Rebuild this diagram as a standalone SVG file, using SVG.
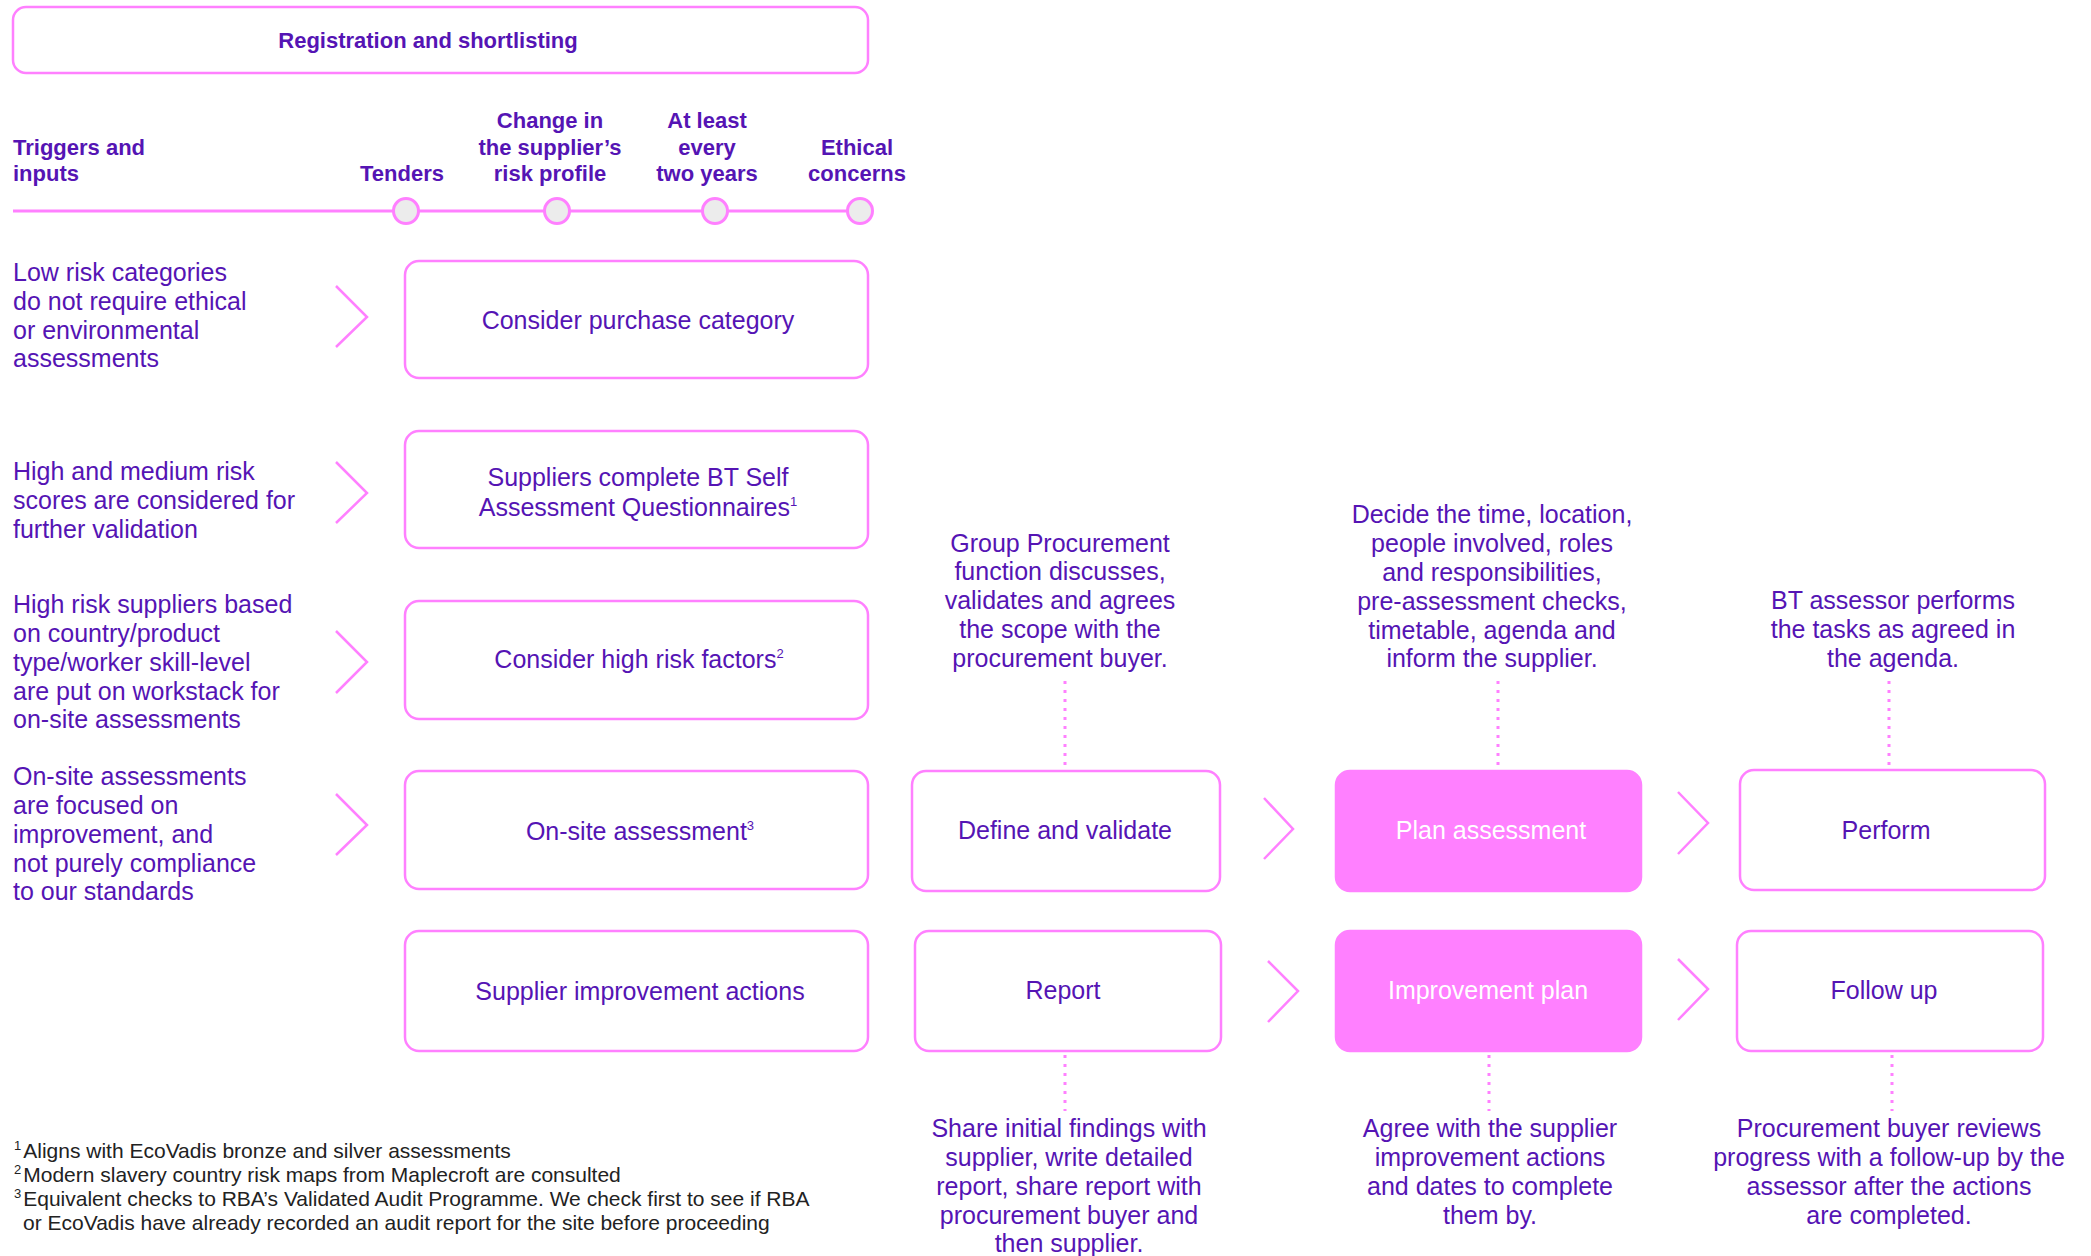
<svg xmlns="http://www.w3.org/2000/svg" width="2091" height="1256" viewBox="0 0 2091 1256">
<style>
.box{fill:#fff;stroke:#ff80ff;stroke-width:2.5}
.fbox{fill:#ff80ff;stroke:#ff80ff;stroke-width:2.5}
text{font-family:"Liberation Sans",Arial,sans-serif;font-size:25px;fill:#5514b4}
.b{font-weight:bold;font-size:22px}
.c{text-anchor:middle}
.w{fill:#fff}
.chev{fill:none;stroke:#ff80ff;stroke-width:2.5}
.dot{fill:none;stroke:#ff80ff;stroke-width:3;stroke-dasharray:3 6}
.fn{font-size:21px;fill:#222}
.sup{font-size:13px}
.tl{stroke:#ff80ff;stroke-width:3}
.circ{fill:#ececec;stroke:#ff80ff;stroke-width:3}
</style>
<rect width="2091" height="1256" fill="#fff"/>

<g id="registration">
<rect class="box" x="13" y="7" width="855" height="66" rx="13"/>
<text class="b c" x="428" y="48">Registration and shortlisting</text>
</g>

<g id="timeline">
<line class="tl" x1="13" y1="211" x2="860" y2="211"/>
<text class="b" x="13" y="155">Triggers and</text>
<text class="b" x="13" y="181">inputs</text>
<g id="t-tenders"><circle class="circ" cx="406" cy="211" r="12.5"/><text class="b c" x="402" y="181">Tenders</text></g>
<g id="t-change"><circle class="circ" cx="557" cy="211" r="12.5"/><text class="b c" x="550" y="128">Change in</text><text class="b c" x="550" y="155">the supplier’s</text><text class="b c" x="550" y="181">risk profile</text></g>
<g id="t-twoyears"><circle class="circ" cx="715" cy="211" r="12.5"/><text class="b c" x="707" y="128">At least</text><text class="b c" x="707" y="155">every</text><text class="b c" x="707" y="181">two years</text></g>
<g id="t-ethical"><circle class="circ" cx="860" cy="211" r="12.5"/><text class="b c" x="857" y="155">Ethical</text><text class="b c" x="857" y="181">concerns</text></g>
</g>

<g id="left-notes">
<text x="13" y="281">Low risk categories</text>
<text x="13" y="310">do not require ethical</text>
<text x="13" y="339">or environmental</text>
<text x="13" y="367">assessments</text>
<text x="13" y="480">High and medium risk</text>
<text x="13" y="509">scores are considered for</text>
<text x="13" y="538">further validation</text>
<text x="13" y="613">High risk suppliers based</text>
<text x="13" y="642">on country/product</text>
<text x="13" y="671">type/worker skill-level</text>
<text x="13" y="700">are put on workstack for</text>
<text x="13" y="728">on-site assessments</text>
<text x="13" y="785">On-site assessments</text>
<text x="13" y="814">are focused on</text>
<text x="13" y="843">improvement, and</text>
<text x="13" y="872">not purely compliance</text>
<text x="13" y="900">to our standards</text>
</g>

<g id="consider-purchase">
<rect class="box" x="405" y="261" width="463" height="117" rx="14"/>
<text class="c" x="638" y="329">Consider purchase category</text>
</g>
<g id="self-assessment">
<rect class="box" x="405" y="431" width="463" height="117" rx="14"/>
<text class="c" x="638" y="486">Suppliers complete BT Self</text>
<text class="c" x="638" y="516">Assessment Questionnaires<tspan class="sup" dy="-10">1</tspan></text>
</g>
<g id="high-risk">
<rect class="box" x="405" y="601" width="463" height="118" rx="14"/>
<text class="c" x="639" y="668">Consider high risk factors<tspan class="sup" dy="-10">2</tspan></text>
</g>
<g id="onsite">
<rect class="box" x="405" y="771" width="463" height="118" rx="14"/>
<text class="c" x="640" y="840">On-site assessment<tspan class="sup" dy="-10">3</tspan></text>
</g>
<g id="improvement-actions">
<rect class="box" x="405" y="931" width="463" height="120" rx="14"/>
<text class="c" x="640" y="1000">Supplier improvement actions</text>
</g>

<g id="define">
<rect class="box" x="912" y="771" width="308" height="120" rx="14"/>
<text class="c" x="1065" y="839">Define and validate</text>
<text class="c" x="1060" y="552">Group Procurement</text>
<text class="c" x="1060" y="580">function discusses,</text>
<text class="c" x="1060" y="609">validates and agrees</text>
<text class="c" x="1060" y="638">the scope with the</text>
<text class="c" x="1060" y="667">procurement buyer.</text>
</g>
<g id="plan">
<rect class="fbox" x="1336" y="771" width="305" height="120" rx="14"/>
<text class="c w" x="1491" y="839">Plan assessment</text>
<text class="c" x="1492" y="523">Decide the time, location,</text>
<text class="c" x="1492" y="552">people involved, roles</text>
<text class="c" x="1492" y="581">and responsibilities,</text>
<text class="c" x="1492" y="610">pre-assessment checks,</text>
<text class="c" x="1492" y="639">timetable, agenda and</text>
<text class="c" x="1492" y="667">inform the supplier.</text>
</g>
<g id="perform">
<rect class="box" x="1740" y="770" width="305" height="120" rx="14"/>
<text class="c" x="1886" y="839">Perform</text>
<text class="c" x="1893" y="609">BT assessor performs</text>
<text class="c" x="1893" y="638">the tasks as agreed in</text>
<text class="c" x="1893" y="667">the agenda.</text>
</g>
<g id="report">
<rect class="box" x="915" y="931" width="306" height="120" rx="14"/>
<text class="c" x="1063" y="999">Report</text>
<text class="c" x="1069" y="1137">Share initial findings with</text>
<text class="c" x="1069" y="1166">supplier, write detailed</text>
<text class="c" x="1069" y="1195">report, share report with</text>
<text class="c" x="1069" y="1224">procurement buyer and</text>
<text class="c" x="1069" y="1252">then supplier.</text>
</g>
<g id="improvement-plan">
<rect class="fbox" x="1336" y="931" width="305" height="120" rx="14"/>
<text class="c w" x="1488" y="999">Improvement plan</text>
<text class="c" x="1490" y="1137">Agree with the supplier</text>
<text class="c" x="1490" y="1166">improvement actions</text>
<text class="c" x="1490" y="1195">and dates to complete</text>
<text class="c" x="1490" y="1224">them by.</text>
</g>
<g id="follow-up">
<rect class="box" x="1737" y="931" width="306" height="120" rx="14"/>
<text class="c" x="1884" y="999">Follow up</text>
<text class="c" x="1889" y="1137">Procurement buyer reviews</text>
<text class="c" x="1889" y="1166">progress with a follow-up by the</text>
<text class="c" x="1889" y="1195">assessor after the actions</text>
<text class="c" x="1889" y="1224">are completed.</text>
</g>

<g id="connectors">
<path class="chev" d="M336,286 L367,317 L336,347"/>
<path class="chev" d="M336,462 L367,493 L336,523"/>
<path class="chev" d="M336,631 L367,662 L336,693"/>
<path class="chev" d="M336,794 L367,825 L336,855"/>
<path class="chev" d="M1264,798 L1293,829 L1264,859"/>
<path class="chev" d="M1678,792 L1708,823 L1678,854"/>
<path class="chev" d="M1268,961 L1298,991 L1268,1022"/>
<path class="chev" d="M1678,959 L1708,989 L1678,1020"/>
<line class="dot" x1="1065" y1="681" x2="1065" y2="769"/>
<line class="dot" x1="1498" y1="681" x2="1498" y2="769"/>
<line class="dot" x1="1889" y1="681" x2="1889" y2="768"/>
<line class="dot" x1="1065" y1="1055" x2="1065" y2="1111"/>
<line class="dot" x1="1489" y1="1055" x2="1489" y2="1111"/>
<line class="dot" x1="1892" y1="1055" x2="1892" y2="1111"/>
</g>

<g id="footnotes">
<text class="fn" x="14" y="1158"><tspan class="sup" dy="-8">1</tspan><tspan dy="8" dx="2">Aligns with EcoVadis bronze and silver assessments</tspan></text>
<text class="fn" x="14" y="1182"><tspan class="sup" dy="-8">2</tspan><tspan dy="8" dx="2">Modern slavery country risk maps from Maplecroft are consulted</tspan></text>
<text class="fn" x="14" y="1206"><tspan class="sup" dy="-8">3</tspan><tspan dy="8" dx="2">Equivalent checks to RBA’s Validated Audit Programme. We check first to see if RBA</tspan></text>
<text class="fn" x="23" y="1230">or EcoVadis have already recorded an audit report for the site before proceeding</text>
</g>
</svg>
